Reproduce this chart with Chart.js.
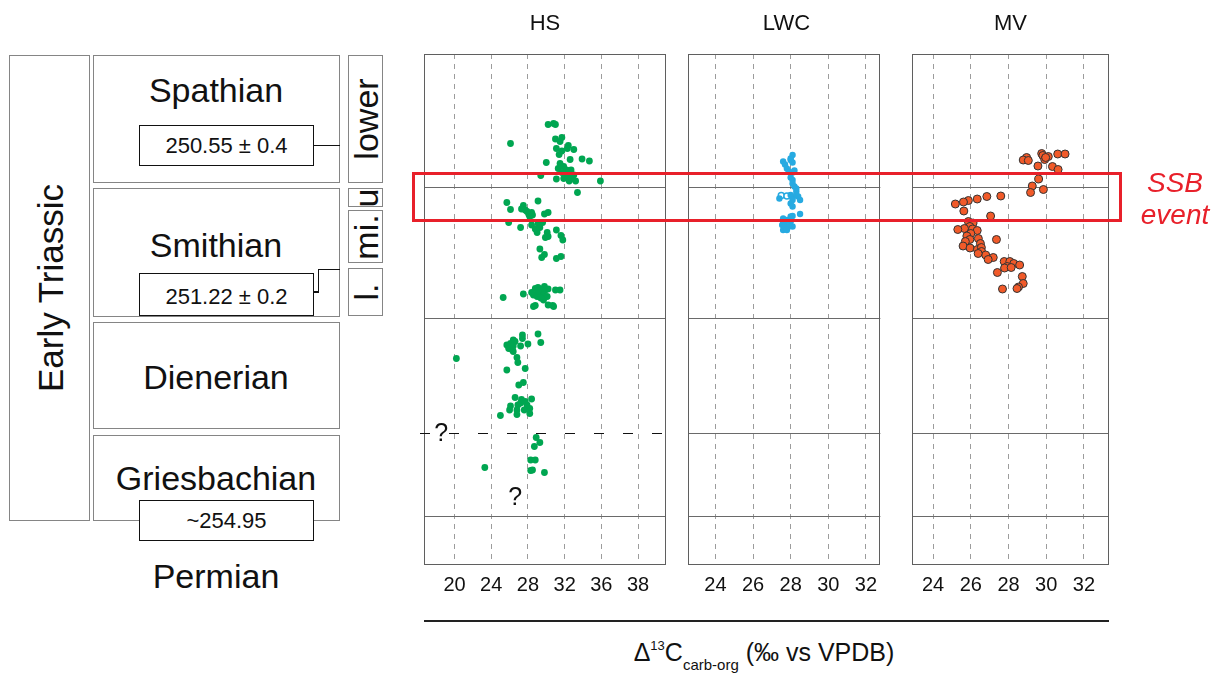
<!DOCTYPE html>
<html>
<head>
<meta charset="utf-8">
<script src="https://cdn.jsdelivr.net/npm/chart.js@4.4.1/dist/chart.umd.min.js"></script>
<style>
html,body{margin:0;padding:0;background:#fff;}
body{width:1218px;height:673px;position:relative;overflow:hidden;font-family:"Liberation Sans",Arial,sans-serif;color:#111;}
canvas{position:absolute;top:0;}
.sbox{position:absolute;border:1px solid #858585;box-sizing:border-box;background:#fff;overflow:hidden;}
.lbl{position:absolute;left:50%;top:50%;transform:translate(-50%,-50%);white-space:nowrap;line-height:1;font-size:34px;}
.rot{transform:translate(-50%,-50%) rotate(-90deg);}
.free{position:absolute;transform:translate(-50%,-50%);white-space:nowrap;line-height:1;font-size:34px;}
.age{position:absolute;border:1.5px solid #111;background:#fff;box-sizing:border-box;display:flex;align-items:center;justify-content:center;font-size:22px;line-height:1;}
.ln{position:absolute;background:#111;}
#ssbBox{position:absolute;border:3px solid #e8202a;box-sizing:border-box;pointer-events:none;}
#ssbText{position:absolute;left:1175px;top:199px;transform:translate(-50%,-50%);color:#e8202a;font-style:italic;font-size:28px;line-height:32px;text-align:center;}
#axisLine{position:absolute;left:424px;top:620px;width:685px;height:2px;background:#222;}
#axisTitle{position:absolute;left:764px;top:655px;transform:translate(-50%,-50%);font-size:25px;white-space:nowrap;line-height:1;}
#axisTitle .sup{font-size:13px;vertical-align:11px;}
#axisTitle .sub{font-size:15px;vertical-align:-9px;}
</style>
</head>
<body>
<!-- stratigraphic column -->
<div class="sbox" style="left:9px;top:55px;width:81px;height:466px;"><div class="lbl rot" style="font-size:35px;">Early Triassic</div></div>
<div class="sbox" style="left:93px;top:55px;width:247px;height:128px;"></div>
<div class="free" style="left:216px;top:90px;">Spathian</div>
<div class="sbox" style="left:93px;top:188px;width:247px;height:129px;"></div>
<div class="free" style="left:216px;top:245px;">Smithian</div>
<div class="sbox" style="left:93px;top:322px;width:247px;height:107px;"></div>
<div class="free" style="left:216px;top:377px;">Dienerian</div>
<div class="sbox" style="left:93px;top:435px;width:247px;height:86px;"></div>
<div class="free" style="left:216px;top:478px;">Griesbachian</div>
<div class="age" style="left:139px;top:125px;width:175px;height:41px;">250.55 ± 0.4</div>
<div class="ln" style="left:314px;top:144.5px;width:26px;height:1.5px;"></div>
<div class="age" style="left:139px;top:273px;width:175px;height:43px;padding-top:4px;">251.22 ± 0.2</div>
<div class="ln" style="left:314px;top:291px;width:5px;height:1.5px;"></div>
<div class="ln" style="left:317.5px;top:269px;width:1.5px;height:23.5px;"></div>
<div class="ln" style="left:318px;top:268.5px;width:22px;height:1.5px;"></div>
<div class="age" style="left:139px;top:500px;width:175px;height:41px;">~254.95</div>
<div class="sbox" style="left:348px;top:55px;width:35px;height:128px;"><div class="lbl rot">lower</div></div>
<div class="sbox" style="left:348px;top:188px;width:35px;height:19px;"><div class="lbl rot">u</div></div>
<div class="sbox" style="left:348px;top:210px;width:35px;height:53px;"><div class="lbl rot">mi.</div></div>
<div class="sbox" style="left:348px;top:268px;width:35px;height:48px;"><div class="lbl rot">l.</div></div>
<div class="free" style="left:216px;top:576px;">Permian</div>

<canvas id="cHS" width="270" height="610" style="left:410px;"></canvas>
<canvas id="cLWC" width="197" height="610" style="left:688px;"></canvas>
<canvas id="cMV" width="197" height="610" style="left:912px;"></canvas>

<div id="ssbBox"></div>
<div id="ssbText">SSB<br>event</div>
<div id="axisLine"></div>
<div id="axisTitle">Δ<span class="sup">13</span>C<span class="sub">carb-org</span> (‰ vs VPDB)</div>

<script>
// ---------------- data ----------------
const panelTitles = ['HS', 'LWC', 'MV'];
const hsTicks = [20, 24, 28, 32, 36, 40];
const hsTickLabels = ['20', '24', '28', '32', '36', '38'];
const lwcTicks = [24, 26, 28, 30, 32];
const lwcTickLabels = ['24', '26', '28', '30', '32'];
const mvTicks = [24, 26, 28, 30, 32];
const mvTickLabels = ['24', '26', '28', '30', '32'];
const hsRange = [16.67, 43.05];
const lwcRange = [22.54, 32.77];
const mvRange = [22.88, 33.33];
const heightRange = [0, 102.2];
// stratigraphic boundaries (relative height): base Griesbachian, Griesbachian/Dienerian, Dienerian/Smithian, Smithian/Spathian
const stageBounds = [9.8, 26.34, 49.3, 75.5];
const ssbEvent = [68.86, 78.34];
const uncertainMarks = [[18.55, 26.34], [26.6, 13.6]];

const hsPoints = [
 [30.2,88.1],[30.8,88.3],[31.0,88.1],[26.1,84.3],[31.0,85.2],[31.7,85.5],[31.5,84.7],[31.1,83.3],[32.4,83.9],[32.3,83.3],
 [33.0,83.1],[31.7,82.8],[31.4,82.1],[32.6,81.1],[33.9,81.2],[34.7,80.8],[30.0,80.5],[31.5,80.3],[31.3,79.3],[31.9,79.7],
 [32.2,79.0],[32.7,79.0],[31.7,78.5],[32.4,78.3],[33.0,78.0],[29.4,77.9],[31.1,77.2],[31.9,77.3],[32.4,77.5],[32.8,77.3],
 [33.2,76.8],[35.9,76.8],[33.4,74.5],[32.1,78.0],[32.5,76.8],
 [25.7,72.5],[26.1,71.1],[27.5,71.9],[27.3,71.2],[27.7,71.0],[27.9,70.7],[28.1,70.1],[28.4,70.5],[28.5,70.0],[28.2,69.7],
 [29.1,72.8],[29.8,70.2],[30.2,70.5],[25.9,68.5],[27.2,67.5],[28.4,68.0],[29.1,68.3],[29.6,68.5],[29.3,67.5],[29.0,66.5],
 [30.1,66.5],[31.1,67.0],[29.9,65.5],[31.6,65.9],[31.8,65.0],[29.3,63.2],[29.8,62.1],[29.5,61.5],[31.1,61.3],[31.6,61.7],
 [28.8,67.2],[30.2,65.7],
 [25.3,53.5],[27.5,54.2],[28.8,55.3],[29.1,55.5],[29.5,55.2],[29.9,55.0],[30.2,55.2],[28.6,54.0],[29.0,53.7],[29.3,54.1],
 [29.7,54.0],[30.1,53.7],[31.0,55.0],[31.5,55.0],[28.8,51.9],[30.2,52.0],[30.8,51.7],[28.4,54.5],[29.7,53.0],[29.1,54.8],
 [29.4,53.4],[28.6,51.7],[29.8,55.7],[30.7,51.9],
 [20.2,41.3],[26.4,45.0],[26.1,44.3],[25.7,44.0],[25.9,43.3],[26.3,43.0],[27.4,46.0],[27.4,45.3],[26.6,44.7],[26.4,43.8],
 [27.2,43.8],[28.0,44.2],[29.1,46.2],[29.4,44.5],[26.4,42.7],[26.8,41.5],[26.9,40.5],[25.7,39.0],[27.7,39.3],[27.0,36.0],
 [27.5,36.5],[26.6,33.5],[27.3,33.1],[27.7,32.7],[28.4,33.2],[26.1,31.8],[26.0,31.0],[26.9,32.0],[26.8,31.0],[26.8,30.1],
 [27.9,32.0],[28.2,31.3],[28.2,30.3],[25.0,29.9],[27.2,32.4],[27.6,31.0],
 [28.9,25.5],[29.3,24.5],[28.7,23.7],[28.3,21.0],[28.8,21.0],[28.3,18.9],[28.5,19.0],[29.8,18.5],[23.3,19.5]
];

const lwcPoints = [
 [28.1,82.0],[28.0,81.3],[28.0,81.0],[28.1,80.5],[27.6,80.7],[27.7,80.1],[27.8,79.3],[27.9,78.7],[28.2,78.9],[28.1,78.5],
 [28.0,77.5],[28.1,77.0],[28.1,76.3],[28.2,75.7],[28.3,75.3],[28.3,74.7],[28.0,74.0],[28.1,73.5],[28.3,74.0],[28.4,73.7],
 [28.5,73.0],[28.1,73.0],[28.0,72.3],[28.1,71.7],[27.4,73.3],[28.5,70.2],[28.0,69.7],[28.1,69.8],[27.8,69.0],[27.6,68.7],
 [28.0,68.7],[27.55,68.0],[27.7,68.0],[27.9,67.7],[28.1,67.7],[27.6,67.0],[27.8,67.0],[27.6,69.3]
];
const lwcOpenPoints = [[27.5,73.9],[27.8,73.8]];

const mvPoints = [
 [28.87,81.1],[28.96,81.5],[28.78,81.0],[29.05,80.9],[29.76,82.3],[29.82,81.9],[29.92,81.1],[30.11,81.7],[29.97,81.5],[30.61,82.2],
 [31.0,82.2],[29.56,79.8],[30.33,79.7],[30.63,79.1],[29.6,77.2],[29.26,75.8],[29.85,75.1],[29.17,74.5],[27.59,73.8],[26.85,73.7],
 [26.34,73.2],[25.87,72.9],[25.61,72.6],[25.18,72.2],[25.63,70.8],[27.05,69.8],[25.87,68.7],[26.12,68.4],[25.95,67.7],[25.66,67.3],
 [25.31,67.1],[26.09,67.2],[26.34,66.9],[26.0,66.3],[25.79,65.8],[25.95,65.1],[26.4,65.3],[25.71,64.7],[26.51,64.3],[27.36,65.1],
 [25.59,63.8],[25.96,63.4],[26.35,63.1],[26.56,63.5],[26.57,62.7],[26.79,62.0],[26.39,62.3],[27.19,61.5],[26.92,61.1],[27.77,60.7],
 [28.07,60.7],[28.28,60.3],[28.59,60.0],[27.93,59.7],[27.79,59.4],[28.14,59.5],[27.41,58.5],[28.73,57.7],[28.78,56.3],[28.53,55.6],
 [28.45,55.3],[27.68,55.2]
];

// ---------------- chart building ----------------
const FONT = '"Liberation Sans", Arial, sans-serif';
const toXY = arr => arr.map(p => ({ x: p[0], y: p[1] }));

function framePlugin(extra) {
  return {
    id: 'frame',
    beforeDatasetsDraw(chart) {
      const { ctx, chartArea: a } = chart;
      ctx.save();
      ctx.strokeStyle = '#5f5f5f';
      ctx.lineWidth = 1;
      ctx.strokeRect(Math.round(a.left) + 0.5, Math.round(a.top) + 0.5,
                     Math.round(a.right - a.left) - 1, Math.round(a.bottom - a.top) - 1);
      ctx.restore();
      if (extra) extra(chart);
    }
  };
}

function hsExtra(chart) {
  const { ctx, chartArea: a, scales } = chart;
  const yy = Math.round(scales.y.getPixelForValue(stageBounds[1])) + 0.5;
  ctx.save();
  ctx.strokeStyle = '#111';
  ctx.lineWidth = 1;
  ctx.setLineDash([10, 19]);
  ctx.beginPath();
  ctx.moveTo(a.left - 4, yy);
  ctx.lineTo(a.right, yy);
  ctx.stroke();
  ctx.setLineDash([]);
  ctx.font = '25px ' + FONT;
  ctx.textAlign = 'center';
  ctx.textBaseline = 'middle';
  uncertainMarks.forEach(m => {
    const px = scales.x.getPixelForValue(m[0]);
    const py = scales.y.getPixelForValue(m[1]);
    ctx.fillStyle = '#fff';
    ctx.fillRect(px - 7, py - 11, 14, 22);
    ctx.fillStyle = '#111';
    ctx.fillText('?', px, py + 1);
  });
  ctx.restore();
}

function makeChart(id, cfg) {
  return new Chart(document.getElementById(id), {
    type: 'scatter',
    data: { datasets: cfg.datasets },
    options: {
      responsive: false,
      animation: false,
      devicePixelRatio: 1,
      events: [],
      layout: { autoPadding: false, padding: { left: cfg.pad || 0, right: cfg.pad || 0, top: 0, bottom: 0 } },
      plugins: {
        legend: { display: false },
        tooltip: { enabled: false },
        title: {
          display: true, text: cfg.title, color: '#111',
          font: { family: FONT, size: 22, weight: 'normal', lineHeight: 1.2 },
          padding: { top: 11, bottom: 16.6 }
        }
      },
      scales: {
        x: {
          type: 'linear', min: cfg.range[0], max: cfg.range[1],
          afterBuildTicks: s => { s.ticks = cfg.ticks.map(v => ({ value: v })); },
          afterFit: s => { s.height = 45; },
          grid: { color: '#9c9c9c', lineWidth: 1, drawTicks: false },
          border: { display: false, dash: [5, 5] },
          ticks: {
            autoSkip: false, maxRotation: 0, minRotation: 0, padding: 8, color: '#111',
            font: { family: FONT, size: 20 },
            callback: (v, i) => cfg.labels[i]
          }
        },
        y: {
          type: 'linear', min: heightRange[0], max: heightRange[1],
          afterBuildTicks: s => { s.ticks = cfg.yBounds.map(v => ({ value: v })); },
          afterFit: s => { s.width = 0; },
          grid: { color: '#6a6a6a', lineWidth: 1, drawTicks: false },
          border: { display: false },
          ticks: { display: false }
        }
      }
    },
    plugins: [framePlugin(cfg.extra)]
  });
}

const hsChart = makeChart('cHS', {
  title: panelTitles[0], range: hsRange, ticks: hsTicks, labels: hsTickLabels, pad: 14,
  yBounds: stageBounds.filter((v, i) => i !== 1), extra: hsExtra,
  datasets: [{ data: toXY(hsPoints), backgroundColor: '#00a651', borderWidth: 0, pointRadius: 3.4 }]
});
makeChart('cLWC', {
  title: panelTitles[1], range: lwcRange, ticks: lwcTicks, labels: lwcTickLabels,
  yBounds: stageBounds,
  datasets: [
    { data: toXY(lwcPoints), backgroundColor: '#27aae1', borderWidth: 0, pointRadius: 3.2 },
    { data: toXY(lwcOpenPoints), backgroundColor: '#ffffff', borderColor: '#27aae1', borderWidth: 1.5, pointRadius: 3 }
  ]
});
makeChart('cMV', {
  title: panelTitles[2], range: mvRange, ticks: mvTicks, labels: mvTickLabels,
  yBounds: stageBounds,
  datasets: [{ data: toXY(mvPoints), backgroundColor: '#f15a29', borderColor: '#333333', borderWidth: 1, pointRadius: 4 }]
});

// SSB event box positioned from the height scale
const ys = hsChart.scales.y;
const boxTop = ys.getPixelForValue(ssbEvent[1]);
const boxBot = ys.getPixelForValue(ssbEvent[0]);
const box = document.getElementById('ssbBox');
box.style.left = '412px';
box.style.width = '710px';
box.style.top = (boxTop - 1.5) + 'px';
box.style.height = (boxBot - boxTop + 3) + 'px';
</script>
</body>
</html>
